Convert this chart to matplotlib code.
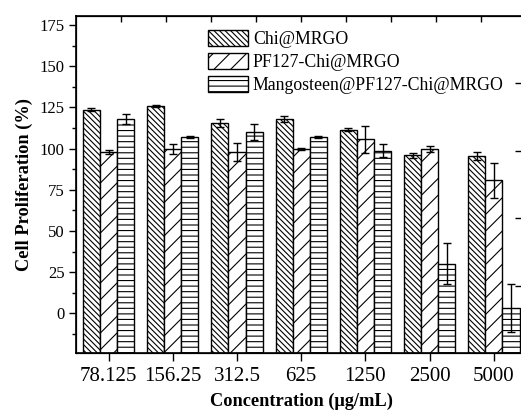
import numpy as np
import matplotlib
matplotlib.use("Agg")
import matplotlib.pyplot as plt
from matplotlib.ticker import MultipleLocator

plt.rcParams["font.family"] = ["Liberation Serif", "DejaVu Serif"]
plt.rcParams["hatch.linewidth"] = 0.8

concentrations = ["78.125", "156.25", "312.5", "625", "1250", "2500", "5000"]
series_names = ["Chi@MRGO", "PF127-Chi@MRGO", "Mangosteen@PF127-Chi@MRGO"]
chi_mrgo = [123.6, 125.8, 115.4, 118.0, 111.6, 96.0, 95.6]
chi_mrgo_err = [1.0, 0.5, 2.3, 1.8, 0.8, 1.5, 2.4]
pf127 = [98.0, 100.0, 98.0, 99.8, 105.6, 99.8, 80.8]
pf127_err = [1.0, 3.0, 5.5, 0.5, 8.0, 2.0, 10.5]
mango = [117.8, 107.0, 110.0, 107.2, 98.8, 30.2, 3.4]
mango_err = [3.0, 0.5, 5.0, 0.5, 4.0, 12.3, 14.5]

values = [chi_mrgo, pf127, mango]
errors = [chi_mrgo_err, pf127_err, mango_err]
hatches = ["\\\\\\\\\\\\", "//", "---"]

y_min, y_max = -24, 180.5

fig = plt.figure(figsize=(5.21, 4.12), dpi=100)
ax = fig.add_axes([0.1468, 0.1432, 0.8628, 0.818])

x = np.arange(len(concentrations))
width = 0.8 / 3
for i, (vals, errs, hatch, name) in enumerate(zip(values, errors, hatches, series_names)):
    vals = np.asarray(vals)
    pos = x + (i - 1) * width
    ax.bar(pos, vals - y_min, width, bottom=y_min, color="white",
           edgecolor="black", linewidth=1.0, hatch=hatch, label=name)
    ax.errorbar(pos, vals, yerr=errs, fmt="none", ecolor="black",
                elinewidth=1.0, capsize=3, capthick=1.0)

ax.set_xlim(-0.5, len(concentrations) - 0.5)
ax.set_ylim(y_min, y_max)
ax.set_xticks(x)
ax.set_xticklabels(concentrations, fontsize=15)
ax.set_yticks(np.arange(0, 176, 25))
ax.yaxis.set_minor_locator(MultipleLocator(12.5))
ax.tick_params(axis="y", labelsize=12, direction="out", length=5, width=1)
ax.tick_params(axis="y", which="minor", direction="out", length=3, width=1)
ax.tick_params(axis="x", direction="out", length=6, width=1, pad=4)
for sp in ax.spines.values():
    sp.set_linewidth(1.2)

ax.set_ylabel("Cell Proliferation (%)", fontsize=13.2, fontweight="bold", labelpad=5)
ax.set_xlabel("Concentration (\u03bcg/mL)", fontsize=13.2, fontweight="bold", labelpad=5)

# top and right axes carry their own evenly spaced inner ticks
top = ax.twiny()
top.set_xlim(0, 1)
top.set_xticks(np.arange(0.1, 1.0, 0.1))
top.tick_params(axis="x", direction="in", length=4, width=1, labeltop=False)
right = ax.twinx()
right.set_ylim(0, 1)
right.set_yticks(np.arange(0.2, 1.0, 0.2))
right.tick_params(axis="y", direction="in", length=8, width=1, labelright=False)

leg = ax.legend(loc="upper left", bbox_to_anchor=(0.26, 1.0), frameon=False,
                fontsize=12.8, handlelength=2.25, handleheight=0.95,
                handletextpad=0.3, labelspacing=0.3, borderaxespad=0.4)

fig.savefig("out.png", dpi=100)
